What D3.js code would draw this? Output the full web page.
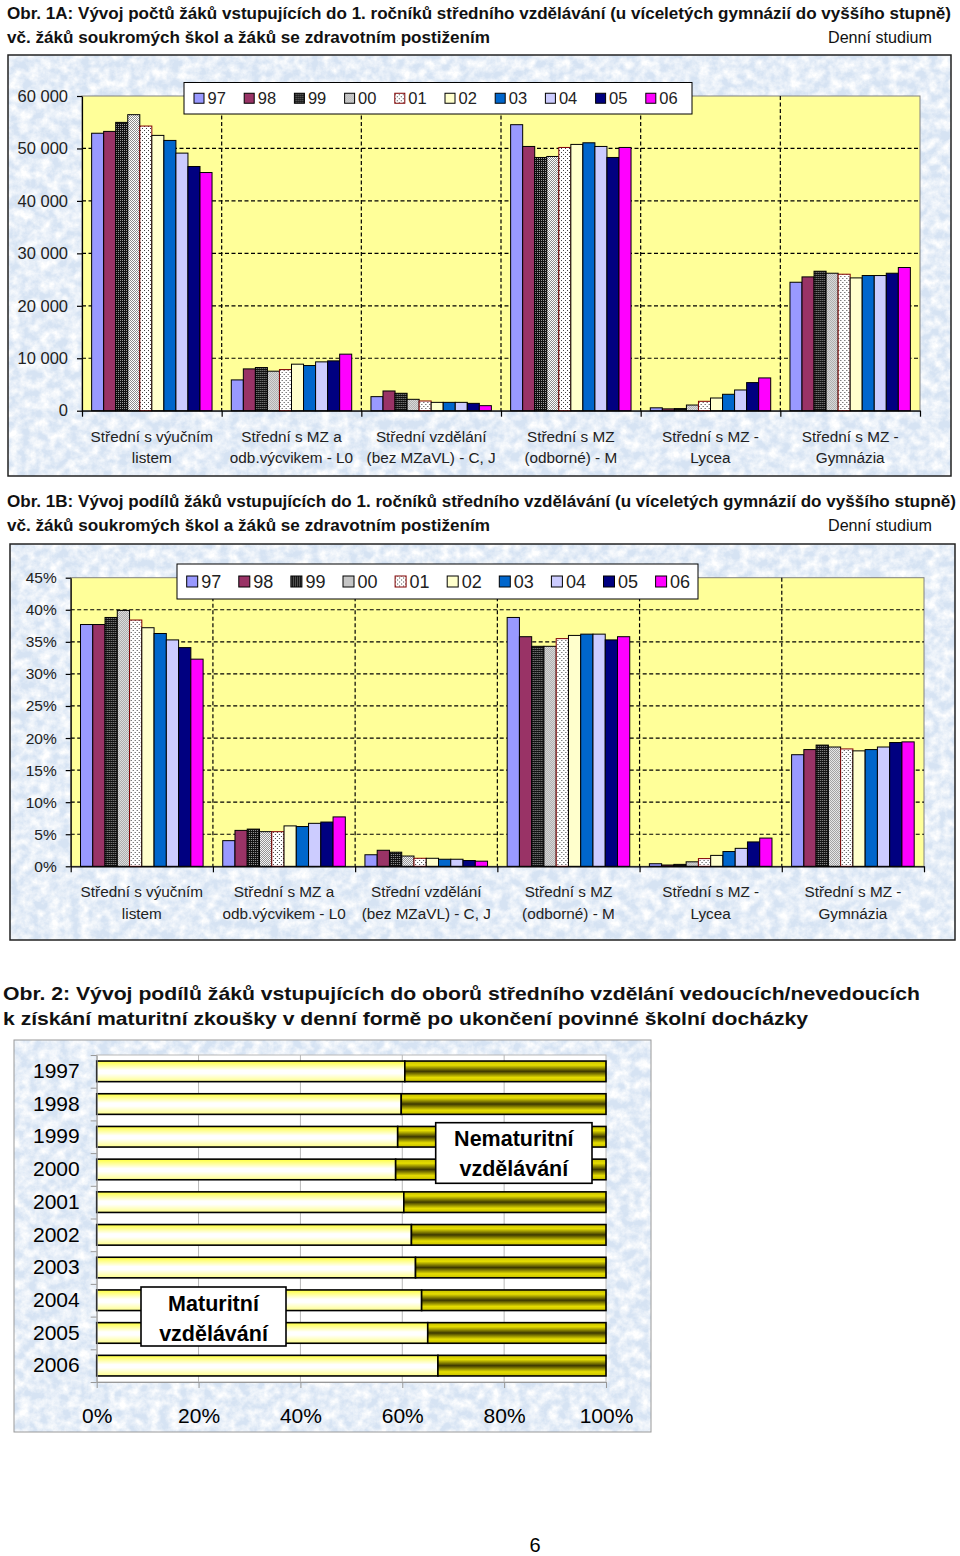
<!DOCTYPE html>
<html><head><meta charset="utf-8">
<script src="https://cdn.jsdelivr.net/npm/d3@7"></script>
<style>
body{margin:0;background:#fff;}
svg{display:block;font-family:"Liberation Sans",Arial,sans-serif;}
</style>
</head><body>
<svg id="c" width="960" height="1556"></svg>
<script>
// ---------------- DATA ----------------
const series = ["97","98","99","00","01","02","03","04","05","06"];
const categories = [
  ["Střední s výučním","listem"],
  ["Střední s MZ a","odb.výcvikem - L0"],
  ["Střední vzdělání","(bez MZaVL) - C, J"],
  ["Střední s MZ","(odborné) - M"],
  ["Střední s MZ -","Lycea"],
  ["Střední s MZ -","Gymnázia"]
];
// Obr. 1A – počty žáků (series 97..06)
const countVyucni = [52900, 53250, 54970, 56440, 54270, 52490, 51530, 49110, 46560, 45410];
const countL0     = [5870, 7970, 8230, 7530, 7840, 8870, 8610, 9310, 9500, 10780];
const countCJ     = [2680, 3760, 3320, 2170, 1850, 1590, 1590, 1590, 1400, 960];
const countM      = [54530, 50380, 48280, 48470, 50190, 50770, 51080, 50380, 48280, 50190];
const countLycea  = [550, 350, 400, 1080, 1790, 2420, 3130, 3950, 5360, 6250];
const countGym    = [24490, 25510, 26590, 26210, 26020, 25320, 25770, 25770, 26210, 27300];
const countTicks  = [0, 10000, 20000, 30000, 40000, 50000, 60000];
// Obr. 1B – podíly žáků (%)
const pctVyucni = [37.7, 37.7, 38.8, 39.9, 38.4, 37.2, 36.3, 35.3, 34.1, 32.3];
const pctL0     = [4.0, 5.6, 5.8, 5.4, 5.4, 6.3, 6.2, 6.7, 6.9, 7.7];
const pctCJ     = [1.8, 2.5, 2.2, 1.6, 1.25, 1.25, 1.1, 1.1, 0.9, 0.8];
const pctM      = [38.8, 35.8, 34.3, 34.3, 35.5, 36.0, 36.2, 36.2, 35.3, 35.8];
const pctLycea  = [0.4, 0.2, 0.3, 0.7, 1.2, 1.7, 2.3, 2.8, 3.8, 4.4];
const pctGym    = [17.4, 18.2, 18.9, 18.6, 18.3, 18.0, 18.2, 18.6, 19.3, 19.4];
const pctTicks  = [0, 5, 10, 15, 20, 25, 30, 35, 40, 45];
// Obr. 2 – podíl maturitní / nematuritní (%)
const years       = ["1997","1998","1999","2000","2001","2002","2003","2004","2005","2006"];
const maturitni   = [60.5, 59.8, 59.1, 58.7, 60.3, 61.8, 62.6, 63.8, 65.0, 67.0];
const nematuritni = [39.5, 40.2, 40.9, 41.3, 39.7, 38.2, 37.4, 36.2, 35.0, 33.0];
const shareTicks  = [0, 20, 40, 60, 80, 100];

// ---------------- SETUP ----------------
const svg = d3.select("#c");
const defs = svg.append("defs");
const FONT = '"Liberation Sans",Arial,sans-serif';

// background texture
const flt = defs.append("filter").attr("id","tex").attr("x",0).attr("y",0).attr("width",1).attr("height",1);
flt.append("feTurbulence").attr("type","fractalNoise").attr("baseFrequency","0.1").attr("numOctaves",4).attr("seed",11).attr("result","n");
flt.append("feColorMatrix").attr("in","n").attr("type","matrix")
  .attr("values","0 0 0 0 1  0 0 0 0 1  0 0 0 0 1  2.0 0 0 0 -0.6");

// patterns
function pat(id, size, bg, dots){
  const p = defs.append("pattern").attr("id",id).attr("patternUnits","userSpaceOnUse").attr("width",size).attr("height",size);
  p.append("rect").attr("width",size).attr("height",size).attr("fill",bg);
  dots.forEach(d=>p.append("rect").attr("x",d[0]).attr("y",d[1]).attr("width",1).attr("height",1).attr("fill",d[2]));
}
pat("p99",2,"#101010",[[0,0,"#9a9a9a"]]);
pat("p00",2,"#ffffff",[[0,0,"#8a8a8a"],[1,1,"#8a8a8a"]]);
pat("p01",4,"#ffffff",[[0,0,"#404040"],[2,2,"#404040"]]);

const fills = ["#9999ff","#993366","url(#p99)","url(#p00)","url(#p01)","#ffffcc","#0066cc","#ccccff","#000080","#ff00ff"];
const strokes = ["#000","#000","#000","#000","#800000","#000","#000","#000","#000","#000"];

// gradients for Obr. 2
function grad(id, stops){
  const lg = defs.append("linearGradient").attr("id",id).attr("x1",0).attr("y1",0).attr("x2",0).attr("y2",1);
  stops.forEach(s=>lg.append("stop").attr("offset",s[0]).attr("stop-color",s[1]));
}
grad("gLight",[[0,"#ffff3a"],[0.45,"#ffffff"],[0.6,"#ffffff"],[1,"#ffff8a"]]);
grad("gDark",[[0,"#c8c000"],[0.2,"#e6de00"],[0.5,"#3c3800"],[0.8,"#e6de00"],[1,"#c8c000"]]);

function texturedFrame(x,y,w,h,stroke,sw){
  const g = svg.append("g");
  g.append("rect").attr("x",x).attr("y",y).attr("width",w).attr("height",h).attr("fill","#d6e3f3");
  g.append("rect").attr("x",x).attr("y",y).attr("width",w).attr("height",h).attr("filter","url(#tex)");
  g.append("rect").attr("x",x).attr("y",y).attr("width",w).attr("height",h).attr("fill","none").attr("stroke",stroke).attr("stroke-width",sw);
}

function title(lines){
  lines.forEach(l=>{
    const t = svg.append("text").attr("x",l.x).attr("y",l.y).attr("font-size",l.size)
      .attr("font-weight",l.bold?"bold":"normal").attr("fill","#111").text(l.text);
    if(l.anchor) t.attr("text-anchor",l.anchor);
    if(l.len) t.attr("textLength",l.len).attr("lengthAdjust","spacingAndGlyphs");
  });
}

// ---------------- GROUPED BAR CHART ----------------
function grouped(cfg){
  const {frame, plot, yMax, ticks, fmt, data, legend, tickFont, catFont, catY} = cfg;
  texturedFrame(frame.x, frame.y, frame.w, frame.h, "#222", 1.5);
  const g = svg.append("g");
  g.append("rect").attr("x",plot.x).attr("y",plot.y).attr("width",plot.w).attr("height",plot.h)
    .attr("fill","#ffff99").attr("stroke","#808080").attr("stroke-width",1);
  const x0 = d3.scaleBand().domain(d3.range(categories.length)).range([plot.x, plot.x+plot.w]);
  const x1 = d3.scaleBand().domain(series).range([0, x0.bandwidth()]).paddingInner(0).paddingOuter(0.8);
  const xb = d3.scaleLinear().domain([0, categories.length]).range([plot.x, plot.x+plot.w]);
  const y = d3.scaleLinear().domain([0, yMax]).range([plot.y+plot.h, plot.y]);

  // gridlines
  g.append("g").selectAll("line").data(ticks.filter(t=>t>0 && t<yMax)).join("line")
    .attr("x1",plot.x).attr("x2",plot.x+plot.w).attr("y1",d=>y(d)).attr("y2",d=>y(d))
    .attr("stroke","#000").attr("stroke-width",1.2).attr("stroke-dasharray","4,2.5");
  g.append("g").selectAll("line").data(d3.range(1, categories.length)).join("line")
    .attr("x1",d=>xb(d)).attr("x2",d=>xb(d)).attr("y1",plot.y).attr("y2",plot.y+plot.h)
    .attr("stroke","#000").attr("stroke-width",1.2).attr("stroke-dasharray","4,2.5");

  // bars
  g.append("g").selectAll("g").data(data).join("g")
    .attr("transform",(d,i)=>`translate(${x0(i)},0)`)
    .selectAll("rect").data(d=>d.map((v,j)=>({v, s:series[j], j}))).join("rect")
    .attr("x",d=>x1(d.s)).attr("width",x1.bandwidth())
    .attr("y",d=>y(d.v)).attr("height",d=>y(0)-y(d.v))
    .attr("fill",d=>fills[d.j]).attr("stroke",d=>strokes[d.j]).attr("stroke-width",1);

  // axes
  const ya = g.append("g").attr("transform",`translate(${plot.x},0)`)
    .call(d3.axisLeft(y).tickValues(ticks).tickFormat(fmt).tickSize(5).tickSizeOuter(0).tickPadding(9));
  ya.selectAll("text").attr("font-size",tickFont).attr("font-family",FONT).attr("fill","#222");
  ya.selectAll("line,path").attr("stroke","#000").attr("stroke-width",1.2);
  const xa = g.append("g").attr("transform",`translate(0,${y(0)})`)
    .call(d3.axisBottom(xb).tickValues(d3.range(0, categories.length+1)).tickFormat("").tickSize(6).tickSizeOuter(0));
  xa.selectAll("line,path").attr("stroke","#000").attr("stroke-width",1.2);

  // category labels
  const cl = g.append("g").selectAll("text").data(categories).join("text")
    .attr("x",(d,i)=>x0(i)+x0.bandwidth()/2).attr("y",catY)
    .attr("text-anchor","middle").attr("font-size",catFont).attr("fill","#222");
  cl.append("tspan").attr("x",(d,i)=>x0(i)+x0.bandwidth()/2).attr("dy",0).text(d=>d[0]);
  cl.append("tspan").attr("x",(d,i)=>x0(i)+x0.bandwidth()/2).attr("dy",legend.lineH).text(d=>d[1]);

  // legend
  const lg = svg.append("g");
  lg.append("rect").attr("x",legend.x).attr("y",legend.y).attr("width",legend.w).attr("height",legend.h)
    .attr("fill","#fff").attr("stroke","#000").attr("stroke-width",1);
  const li = lg.selectAll("g").data(series).join("g")
    .attr("transform",(d,i)=>`translate(${legend.x0 + i*legend.step},${legend.y + legend.h/2})`);
  li.append("rect").attr("x",0).attr("y",-legend.sq/2).attr("width",legend.sq).attr("height",legend.sq)
    .attr("fill",(d,i)=>fills[i]).attr("stroke",(d,i)=>strokes[i]).attr("stroke-width",1);
  li.append("text").attr("x",legend.sq+3.5).attr("y",legend.font*0.36).attr("font-size",legend.font)
    .attr("fill","#222").text(d=>d);
}

// ---------------- TITLES ----------------
title([
  {x:7, y:19, size:16, bold:true, len:944, text:"Obr. 1A: Vývoj počtů žáků vstupujících do 1. ročníků středního vzdělávání (u víceletých gymnázií do vyššího stupně)"},
  {x:7, y:43, size:16, bold:true, len:483, text:"vč. žáků soukromých škol a žáků se zdravotním postižením"},
  {x:932, y:43, size:16, anchor:"end", len:104, text:"Denní studium"},
  {x:7, y:507, size:16, bold:true, len:949, text:"Obr. 1B: Vývoj podílů žáků vstupujících do 1. ročníků středního vzdělávání (u víceletých gymnázií do vyššího stupně)"},
  {x:7, y:531, size:16, bold:true, len:483, text:"vč. žáků soukromých škol a žáků se zdravotním postižením"},
  {x:932, y:531, size:16, anchor:"end", len:104, text:"Denní studium"},
  {x:3, y:1000, size:19, bold:true, len:917, text:"Obr. 2: Vývoj podílů žáků vstupujících do oborů středního vzdělání vedoucích/nevedoucích"},
  {x:3, y:1025, size:19, bold:true, len:805, text:"k získání maturitní zkoušky v denní formě po ukončení povinné školní docházky"}
]);

// ---------------- OBR. 1A ----------------
grouped({
  frame:{x:8, y:55, w:943, h:421},
  plot:{x:82, y:96, w:838, h:314.7},
  yMax:60000, ticks:countTicks,
  fmt:d=>d3.format(",")(d).replace(/,/g," "),
  data:[countVyucni, countL0, countCJ, countM, countLycea, countGym],
  tickFont:16.5, catFont:15.3, catY:442,
  legend:{x:184, y:82.5, w:508, h:31.5, x0:194, step:50.2, sq:10, font:16.5, lineH:21}
});

// ---------------- OBR. 1B ----------------
grouped({
  frame:{x:10, y:544, w:945, h:396},
  plot:{x:70.7, y:577.7, w:853.3, h:288.6},
  yMax:45, ticks:pctTicks,
  fmt:d=>d+"%",
  data:[pctVyucni, pctL0, pctCJ, pctM, pctLycea, pctGym],
  tickFont:15.5, catFont:15.3, catY:897,
  legend:{x:177, y:564, w:521, h:35, x0:186.7, step:52.1, sq:11, font:18, lineH:22}
});

// ---------------- OBR. 2 ----------------
(function(){
  texturedFrame(14, 1040, 637, 392, "#9a9a9a", 1);
  const plot = {x:96.7, y:1055, w:509.3, h:327};
  const g = svg.append("g");
  g.append("rect").attr("x",plot.x).attr("y",plot.y).attr("width",plot.w).attr("height",plot.h)
    .attr("fill","#fff").attr("stroke","#b8b8b8").attr("stroke-width",1);
  const x = d3.scaleLinear().domain([0,100]).range([plot.x, plot.x+plot.w]);
  const y = d3.scaleBand().domain(years).range([plot.y, plot.y+plot.h]).paddingInner(0.37).paddingOuter(0.185);
  const yb = d3.scaleLinear().domain([0, years.length]).range([plot.y, plot.y+plot.h]);

  g.append("g").selectAll("line").data(shareTicks.filter(t=>t>0 && t<100)).join("line")
    .attr("x1",d=>x(d)).attr("x2",d=>x(d)).attr("y1",plot.y).attr("y2",plot.y+plot.h)
    .attr("stroke","#b8b8b8").attr("stroke-width",1);

  const rows = years.map((yr,i)=>({yr, m:maturitni[i], n:nematuritni[i]}));
  const bg = g.append("g");
  bg.selectAll("rect.m").data(rows).join("rect").attr("class","m")
    .attr("x",x(0)).attr("y",d=>y(d.yr)).attr("width",d=>x(d.m)-x(0)).attr("height",y.bandwidth())
    .attr("fill","url(#gLight)").attr("stroke","#000").attr("stroke-width",1.6);
  bg.selectAll("rect.n").data(rows).join("rect").attr("class","n")
    .attr("x",d=>x(d.m)).attr("y",d=>y(d.yr)).attr("width",d=>x(d.m+d.n)-x(d.m)).attr("height",y.bandwidth())
    .attr("fill","url(#gDark)").attr("stroke","#000").attr("stroke-width",1.6);

  const ya = g.append("g").attr("transform",`translate(${plot.x},0)`)
    .call(d3.axisLeft(yb).tickValues(d3.range(0, years.length+1)).tickFormat("").tickSize(6).tickSizeOuter(0));
  ya.selectAll("line,path").attr("stroke","#999");
  const yl = g.append("g").attr("transform",`translate(${plot.x},0)`)
    .call(d3.axisLeft(y).tickSize(0).tickPadding(17));
  yl.select("path").remove();
  yl.selectAll("text").attr("font-size",21).attr("font-family",FONT).attr("fill","#000");

  const xa = g.append("g").attr("transform",`translate(0,${plot.y+plot.h})`)
    .call(d3.axisBottom(x).tickValues(shareTicks).tickFormat(d=>d+"%").tickSize(6).tickSizeOuter(0).tickPadding(20));
  xa.select("path").attr("stroke","#999");
  xa.selectAll("line").attr("stroke","#999");
  xa.selectAll("text").attr("font-size",21).attr("font-family",FONT).attr("fill","#000");

  // annotation boxes
  const ann = [
    {x:435.7, y:1122.7, w:156.3, h:60.6, lines:["Nematuritní","vzdělávání"], by:[1145.5,1175.5]},
    {x:141, y:1287, w:145, h:59, lines:["Maturitní","vzdělávání"], by:[1310.5,1340.5]}
  ];
  ann.forEach(a=>{
    g.append("rect").attr("x",a.x).attr("y",a.y).attr("width",a.w).attr("height",a.h)
      .attr("fill","#fff").attr("stroke","#000").attr("stroke-width",1.6);
    a.lines.forEach((l,i)=>g.append("text").attr("x",a.x+a.w/2).attr("y",a.by[i]).attr("text-anchor","middle")
      .attr("font-size",21.5).attr("font-weight","bold").attr("fill","#000").text(l));
  });
})();

// page number
svg.append("text").attr("x",535).attr("y",1552).attr("text-anchor","middle").attr("font-size",20).attr("fill","#000").text("6");
</script>
</body></html>
